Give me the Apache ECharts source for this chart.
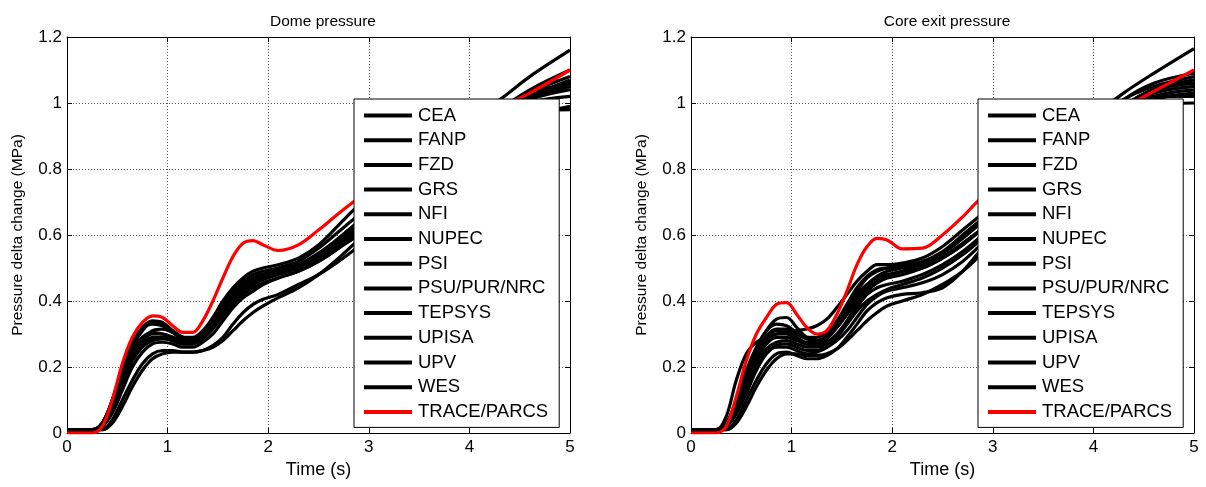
<!DOCTYPE html>
<html>
<head>
<meta charset="utf-8">
<script src="https://cdn.jsdelivr.net/npm/echarts@6/dist/echarts.min.js"></script>
<style>
  html, body { margin: 0; padding: 0; background: #fff; }
  #chart { width: 1206px; height: 487px; }
</style>
</head>
<body>
<div id="chart"></div>
<script>
// time samples (s)
const time = [0, 0.25, 0.35, 0.45, 0.55, 0.65, 0.75, 0.85, 0.95, 1.05, 1.15, 1.25, 1.35, 1.45, 1.55,
  1.65, 1.75, 1.85, 1.95, 2.1, 2.3, 2.5, 2.7, 2.9, 3.2, 3.6, 4.0, 4.3, 4.6, 5.0];

const names = ['CEA', 'FANP', 'FZD', 'GRS', 'NFI', 'NUPEC', 'PSI', 'PSU/PUR/NRC',
  'TEPSYS', 'UPISA', 'UPV', 'WES', 'TRACE/PARCS'];

// Dome pressure (MPa)
const domeCEA    = [0.01,0.01,0.03,0.10,0.19,0.27,0.32,0.34,0.335,0.31,0.29,0.29,0.31,0.35,0.40,0.44,0.47,0.49,0.50,0.51,0.53,0.57,0.63,0.69,0.76,0.86,0.95,1.01,1.08,1.16];
const domeFANP   = [0.01,0.01,0.02,0.08,0.17,0.24,0.28,0.30,0.30,0.29,0.28,0.28,0.30,0.33,0.37,0.41,0.44,0.46,0.48,0.50,0.52,0.56,0.61,0.66,0.72,0.81,0.90,0.97,1.03,1.08];
const domeFZD    = [0.01,0.01,0.02,0.07,0.15,0.22,0.26,0.28,0.285,0.28,0.27,0.27,0.29,0.32,0.36,0.40,0.43,0.45,0.47,0.49,0.51,0.54,0.59,0.64,0.70,0.80,0.90,0.97,1.02,1.06];
const domeGRS    = [0.01,0.01,0.03,0.09,0.18,0.26,0.31,0.335,0.33,0.31,0.29,0.28,0.29,0.32,0.37,0.42,0.46,0.48,0.49,0.50,0.51,0.54,0.58,0.63,0.70,0.79,0.89,0.96,1.01,1.05];
const domeNFI    = [0.01,0.01,0.01,0.04,0.10,0.16,0.21,0.24,0.25,0.25,0.245,0.245,0.25,0.265,0.29,0.33,0.365,0.39,0.405,0.42,0.45,0.48,0.52,0.565,0.63,0.73,0.84,0.92,0.96,0.99];
const domeNUPEC  = [0.01,0.01,0.02,0.06,0.13,0.20,0.245,0.27,0.275,0.27,0.26,0.26,0.275,0.30,0.34,0.38,0.41,0.43,0.45,0.47,0.49,0.52,0.56,0.61,0.68,0.78,0.88,0.96,1.01,1.04];
const domePSI    = [0.01,0.01,0.03,0.10,0.20,0.27,0.315,0.33,0.325,0.305,0.285,0.285,0.305,0.345,0.39,0.43,0.455,0.47,0.48,0.49,0.51,0.545,0.59,0.64,0.71,0.81,0.91,0.98,1.04,1.10];
const domePSU    = [0.01,0.01,0.02,0.07,0.15,0.22,0.265,0.285,0.29,0.285,0.275,0.275,0.29,0.32,0.355,0.39,0.42,0.44,0.455,0.47,0.49,0.52,0.56,0.60,0.67,0.77,0.87,0.95,1.00,1.02];
const domeTEPSYS = [0.01,0.01,0.01,0.03,0.08,0.14,0.19,0.225,0.24,0.245,0.245,0.245,0.25,0.26,0.28,0.31,0.34,0.365,0.385,0.41,0.44,0.48,0.53,0.585,0.65,0.75,0.85,0.93,0.97,0.98];
const domeUPISA  = [0.01,0.01,0.03,0.09,0.18,0.25,0.29,0.305,0.30,0.29,0.275,0.275,0.295,0.33,0.38,0.42,0.45,0.47,0.48,0.49,0.50,0.535,0.575,0.62,0.69,0.79,0.89,0.97,1.02,1.05];
const domeUPV    = [0.01,0.01,0.02,0.08,0.16,0.23,0.27,0.29,0.29,0.28,0.27,0.27,0.285,0.315,0.355,0.395,0.43,0.45,0.465,0.48,0.50,0.53,0.57,0.62,0.69,0.79,0.89,0.97,1.02,1.07];
const domeWES    = [0.01,0.01,0.02,0.07,0.15,0.23,0.28,0.31,0.315,0.305,0.29,0.285,0.30,0.33,0.37,0.41,0.44,0.46,0.47,0.485,0.50,0.53,0.575,0.625,0.70,0.80,0.90,0.98,1.03,1.06];
const domeTRACE  = [0.00,0.00,0.02,0.10,0.21,0.29,0.335,0.355,0.35,0.325,0.305,0.305,0.34,0.40,0.47,0.535,0.575,0.583,0.57,0.553,0.57,0.615,0.665,0.712,0.77,0.85,0.93,0.985,1.03,1.10];

// Core exit pressure (MPa)
const coreCEA    = [0.01,0.01,0.05,0.16,0.24,0.275,0.29,0.30,0.305,0.31,0.315,0.325,0.345,0.38,0.42,0.46,0.49,0.51,0.51,0.515,0.53,0.565,0.615,0.665,0.74,0.85,0.96,1.03,1.09,1.165];
const coreFANP   = [0.01,0.01,0.02,0.08,0.17,0.25,0.31,0.345,0.35,0.32,0.29,0.28,0.295,0.33,0.38,0.43,0.47,0.49,0.50,0.51,0.52,0.55,0.60,0.65,0.72,0.82,0.93,1.01,1.05,1.08];
const coreFZD    = [0.01,0.01,0.02,0.06,0.13,0.20,0.245,0.26,0.26,0.25,0.24,0.245,0.26,0.29,0.33,0.38,0.42,0.44,0.45,0.46,0.48,0.51,0.55,0.60,0.67,0.78,0.89,0.98,1.03,1.05];
const coreGRS    = [0.01,0.01,0.02,0.07,0.15,0.22,0.27,0.29,0.29,0.28,0.27,0.27,0.285,0.32,0.37,0.42,0.45,0.47,0.48,0.49,0.50,0.53,0.57,0.62,0.70,0.80,0.91,0.99,1.04,1.06];
const coreNFI    = [0.01,0.01,0.01,0.04,0.10,0.16,0.21,0.24,0.245,0.235,0.225,0.225,0.235,0.255,0.29,0.33,0.37,0.395,0.41,0.42,0.425,0.44,0.49,0.56,0.64,0.75,0.87,0.96,1.01,1.03];
const coreNUPEC  = [0.01,0.01,0.02,0.08,0.17,0.24,0.29,0.31,0.31,0.29,0.275,0.275,0.29,0.32,0.36,0.40,0.44,0.46,0.475,0.49,0.51,0.545,0.59,0.64,0.71,0.81,0.91,0.99,1.04,1.07];
const corePSI    = [0.01,0.01,0.03,0.10,0.19,0.26,0.31,0.33,0.325,0.305,0.29,0.29,0.305,0.34,0.39,0.44,0.475,0.495,0.50,0.505,0.515,0.545,0.59,0.645,0.72,0.82,0.93,1.01,1.06,1.09];
const corePSU    = [0.01,0.01,0.02,0.06,0.14,0.21,0.255,0.275,0.28,0.27,0.26,0.26,0.27,0.295,0.33,0.37,0.40,0.42,0.435,0.45,0.47,0.50,0.54,0.59,0.66,0.77,0.88,0.97,1.02,1.04];
const coreTEPSYS = [0.01,0.01,0.01,0.03,0.08,0.14,0.19,0.225,0.24,0.24,0.235,0.235,0.24,0.255,0.28,0.31,0.34,0.365,0.385,0.40,0.42,0.45,0.49,0.545,0.62,0.73,0.85,0.94,0.99,1.00];
const coreUPISA  = [0.01,0.01,0.02,0.09,0.18,0.25,0.295,0.315,0.315,0.30,0.285,0.28,0.29,0.32,0.36,0.41,0.45,0.475,0.49,0.50,0.51,0.535,0.575,0.62,0.69,0.80,0.91,0.99,1.04,1.06];
const coreUPV    = [0.01,0.01,0.02,0.07,0.16,0.23,0.28,0.30,0.30,0.285,0.27,0.265,0.275,0.30,0.34,0.39,0.43,0.455,0.47,0.48,0.50,0.53,0.57,0.62,0.69,0.79,0.90,0.98,1.03,1.05];
const coreWES    = [0.01,0.01,0.02,0.06,0.12,0.19,0.24,0.265,0.27,0.26,0.25,0.25,0.26,0.28,0.31,0.35,0.39,0.415,0.43,0.44,0.455,0.48,0.52,0.575,0.65,0.76,0.88,0.97,1.02,1.02];
const coreTRACE  = [0.00,0.00,0.02,0.11,0.22,0.30,0.35,0.39,0.395,0.36,0.32,0.30,0.31,0.36,0.43,0.51,0.565,0.59,0.585,0.558,0.56,0.60,0.655,0.715,0.77,0.85,0.93,0.985,1.035,1.10];

const domeSet = [domeCEA, domeFANP, domeFZD, domeGRS, domeNFI, domeNUPEC, domePSI, domePSU,
  domeTEPSYS, domeUPISA, domeUPV, domeWES, domeTRACE];
const coreSet = [coreCEA, coreFANP, coreFZD, coreGRS, coreNFI, coreNUPEC, corePSI, corePSU,
  coreTEPSYS, coreUPISA, coreUPV, coreWES, coreTRACE];

const font = 'Liberation Sans, Arial, sans-serif';
const chart = echarts.init(document.getElementById('chart'));

// plot boxes, matlab style
const grids = [
  { left: 67, top: 37, width: 503, height: 396 },
  { left: 691, top: 37, width: 503, height: 396 },
];

function xAxis(gridIndex, position) {
  const main = position === 'bottom';
  return {
    type: 'value', gridIndex, position, min: 0, max: 5, interval: 1,
    name: main ? 'Time (s)' : '', nameLocation: 'middle', nameGap: 28,
    nameTextStyle: { fontFamily: font, fontSize: 18, color: '#000' },
    axisLine: { show: true, onZero: false, lineStyle: { color: '#000', width: 1 } },
    axisTick: { show: true, inside: true, length: 5, lineStyle: { color: '#000' } },
    axisLabel: { show: main, margin: 6, fontFamily: font, fontSize: 17, color: '#000' },
    splitLine: { show: main, lineStyle: { color: '#555', type: [1, 2], width: 1 } },
  };
}

function yAxis(gridIndex, position) {
  const main = position === 'left';
  return {
    type: 'value', gridIndex, position, min: 0, max: 1.2, interval: 0.2,
    name: main ? 'Pressure delta change (MPa)' : '', nameLocation: 'middle', nameGap: 41,
    nameTextStyle: { fontFamily: font, fontSize: 15.5, color: '#000' },
    axisLine: { show: true, onZero: false, lineStyle: { color: '#000', width: 1 } },
    axisTick: { show: true, inside: true, length: 5, lineStyle: { color: '#000' } },
    axisLabel: { show: main, margin: 5, fontFamily: font, fontSize: 17, color: '#000' },
    splitLine: { show: main, lineStyle: { color: '#555', type: [1, 2], width: 1 } },
  };
}

function makeSeries(set, axisIndex) {
  return names.map((name, k) => {
    const color = name === 'TRACE/PARCS' ? '#ff0000' : '#000000';
    return {
      name, type: 'line', xAxisIndex: axisIndex, yAxisIndex: axisIndex,
      data: time.map((t, i) => [t, set[k][i]]),
      smooth: 0.35, symbol: 'none', silent: true,
      lineStyle: { color, width: 3.2 },
      itemStyle: { color },
    };
  });
}

function legend(left) {
  return {
    data: names, orient: 'vertical', left, top: 99,
    icon: 'rect', itemWidth: 48, itemHeight: 4, itemGap: 5.7,
    padding: [7, 11, 6, 10],
    backgroundColor: '#fff', borderColor: '#000', borderWidth: 1, borderRadius: 0,
    textStyle: { fontFamily: font, fontSize: 18.5, lineHeight: 18, color: '#000', padding: [0, 0, 0, 1] },
    selectedMode: false,
  };
}

chart.setOption({
  animation: false,
  backgroundColor: '#fff',
  title: [
    { text: 'Dome pressure', left: 318, top: 9, textAlign: 'center',
      textStyle: { fontFamily: font, fontSize: 15.5, fontWeight: 'normal', color: '#000' } },
    { text: 'Core exit pressure', left: 942, top: 9, textAlign: 'center',
      textStyle: { fontFamily: font, fontSize: 15.5, fontWeight: 'normal', color: '#000' } },
  ],
  grid: grids,
  xAxis: [xAxis(0, 'bottom'), xAxis(1, 'bottom'), xAxis(0, 'top'), xAxis(1, 'top')],
  yAxis: [yAxis(0, 'left'), yAxis(1, 'left'), yAxis(0, 'right'), yAxis(1, 'right')],
  legend: [legend(354), legend(978)],
  series: [...makeSeries(domeSet, 0), ...makeSeries(coreSet, 1)],
});
</script>
</body>
</html>
